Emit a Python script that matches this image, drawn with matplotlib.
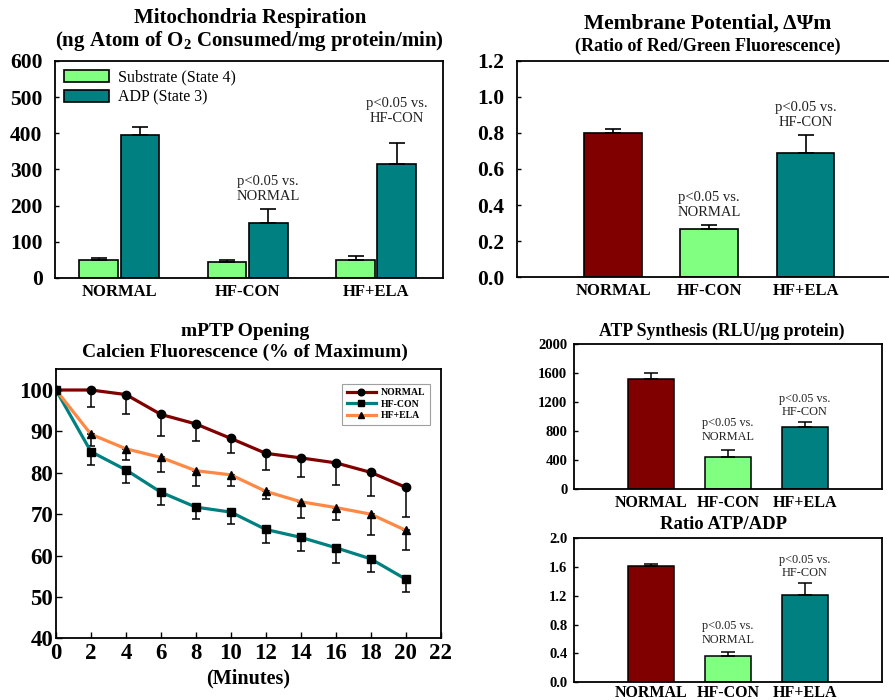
import matplotlib
matplotlib.use("Agg")
import matplotlib.pyplot as plt
import numpy as np

plt.rcParams['font.family'] = ['Liberation Serif', 'DejaVu Serif']
plt.rcParams['mathtext.fontset'] = 'custom'
plt.rcParams['mathtext.rm'] = 'Liberation Serif'
plt.rcParams['mathtext.bf'] = 'Liberation Serif:bold'

# Data
groups = ["NORMAL", "HF-CON", "HF+ELA"]
state4 = [49, 45, 49]
state4_err = [5, 5, 12]
state3 = [396, 151, 316]
state3_err = [22, 39, 57]

dpsi = [0.80, 0.27, 0.69]
dpsi_err = [0.02, 0.02, 0.10]

atp = [1517, 446, 855]
atp_err = [78, 87, 69]

ratio = [1.615, 0.37, 1.21]
ratio_err = [0.03, 0.05, 0.17]

minutes = [0, 2, 4, 6, 8, 10, 12, 14, 16, 18, 20]
mptp_normal = [100, 100, 98.9, 94.1, 91.8, 88.3, 84.7, 83.6, 82.4, 80.1, 76.5]
mptp_normal_err = [0, 4.1, 4.8, 5.3, 4.1, 3.6, 4.1, 4.6, 5.3, 5.6, 7.1]
mptp_hfcon = [100, 85.1, 80.7, 75.3, 71.7, 70.5, 66.3, 64.4, 61.9, 59.2, 54.3]
mptp_hfcon_err = [0, 3.2, 3.2, 3.0, 2.8, 2.8, 3.3, 3.3, 3.6, 3.2, 3.2]
mptp_hfela = [100, 89.3, 85.8, 83.7, 80.5, 79.5, 75.5, 73.0, 71.6, 70.0, 66.1]
mptp_hfela_err = [0, 2.8, 2.7, 3.4, 3.8, 2.8, 1.9, 4.0, 3.0, 5.0, 4.8]

RED = "#800000"
GREEN = "#80FF80"
TEAL = "#008080"
ORANGE = "#FF8844"
bar_colors = [RED, GREEN, TEAL]
pnote_normal = "p<0.05 vs.\nNORMAL"
pnote_hfcon = "p<0.05 vs.\nHF-CON"

fig = plt.figure(figsize=(8.89, 7.0), dpi=100)


def style_axes(ax, ysize, xsize, ypad=3.5, xpad=4):
    for s in ax.spines.values():
        s.set_linewidth(1.3)
    ax.tick_params(axis='y', direction='in', length=3, width=1, labelsize=ysize, pad=ypad)
    ax.tick_params(axis='x', length=0, labelsize=xsize, pad=xpad)
    for lab in ax.get_xticklabels() + ax.get_yticklabels():
        lab.set_fontweight('bold')


# ---- Mitochondria respiration
ax1 = fig.add_axes([0.0619, 0.6029, 0.4364, 0.31])
x = np.arange(len(groups))
w = 0.30
ax1.bar(x - 0.16, state4, w, color=GREEN, edgecolor='black', linewidth=1.2,
        yerr=[[0] * 3, state4_err], capsize=6, error_kw=dict(elinewidth=1.2, capthick=1.2),
        label="Substrate (State 4)")
ax1.bar(x + 0.16, state3, w, color=TEAL, edgecolor='black', linewidth=1.2,
        yerr=[[0] * 3, state3_err], capsize=6, error_kw=dict(elinewidth=1.2, capthick=1.2),
        label="ADP (State 3)")
ax1.set_xlim(-0.5, 2.52)
ax1.set_ylim(0, 600)
ax1.set_yticks(range(0, 601, 100))
ax1.set_xticks(x)
ax1.set_xticklabels(groups)
style_axes(ax1, 15.5, 12, ypad=9)
ax1.legend(loc='upper left', frameon=False, fontsize=11.5, handlelength=2.8,
           handleheight=0.8, borderaxespad=0.15, labelspacing=0.25, handletextpad=0.6)
ax1.text(1.16, 208, pnote_normal, ha='center', va='bottom', fontsize=10.5, color='#222222')
ax1.text(2.16, 422, pnote_hfcon, ha='center', va='bottom', fontsize=10.5, color='#222222')
fig.text(0.281, 0.975, "Mitochondria Respiration", ha='center', va='center',
         fontsize=15, fontweight='bold')
fig.text(0.281, 0.941, r"(ng Atom of $\mathbf{O_2}$ Consumed/mg protein/min)", ha='center',
         va='center', fontsize=15, fontweight='bold')

# ---- Membrane potential
ax2 = fig.add_axes([0.5812, 0.6039, 0.4333, 0.3094])
ax2.bar(x, dpsi, 0.6, color=bar_colors, edgecolor='black', linewidth=1.2,
        yerr=[[0] * 3, dpsi_err], capsize=6, error_kw=dict(elinewidth=1.2, capthick=1.2))
ax2.set_xlim(-1, 3)
ax2.set_ylim(0, 1.2)
ax2.set_yticks(np.arange(0, 1.21, 0.2))
ax2.set_yticklabels([f"{v:.1f}" for v in np.arange(0, 1.21, 0.2)])
ax2.set_xticks(x)
ax2.set_xticklabels(groups)
style_axes(ax2, 15.5, 12, ypad=9)
ax2.text(1, 0.325, pnote_normal, ha='center', va='bottom', fontsize=10.5, color='#222222')
ax2.text(2, 0.82, pnote_hfcon, ha='center', va='bottom', fontsize=10.5, color='#222222')
fig.text(0.796, 0.967, "Membrane Potential, ΔΨm", ha='center', va='center',
         fontsize=15.5, fontweight='bold')
fig.text(0.796, 0.934, "(Ratio of Red/Green Fluorescence)", ha='center', va='center',
         fontsize=13, fontweight='bold')

# ---- mPTP opening
ax3 = fig.add_axes([0.063, 0.0881, 0.4327, 0.3843])
series = [
    (mptp_normal, mptp_normal_err, RED, 'o', "NORMAL"),
    (mptp_hfcon, mptp_hfcon_err, TEAL, 's', "HF-CON"),
    (mptp_hfela, mptp_hfela_err, ORANGE, '^', "HF+ELA"),
]
for vals, errs, col, mk, lab in series:
    ax3.errorbar(minutes, vals, yerr=[errs, [0] * len(errs)], fmt='none', ecolor='black',
                 elinewidth=1.1, capsize=3, capthick=1.1, zorder=2)
    ax3.plot(minutes, vals, color=col, linewidth=2.3, marker=mk, markersize=6,
             markerfacecolor='black', markeredgecolor='black', label=lab, zorder=3)
ax3.set_xlim(0, 22)
ax3.set_ylim(40, 105)
ax3.set_xticks(range(0, 23, 2))
ax3.set_yticks(range(40, 101, 10))
for s in ax3.spines.values():
    s.set_linewidth(1.3)
ax3.tick_params(direction='in', length=4, width=1, labelsize=16.5)
ax3.tick_params(axis='y', pad=2)
for lab in ax3.get_xticklabels() + ax3.get_yticklabels():
    lab.set_fontweight('bold')
ax3.set_xlabel("(Minutes)", fontsize=14.5, fontweight='bold', labelpad=3)
leg = ax3.legend(loc='upper right', prop={'weight': 'bold', 'size': 7},
                 handlelength=3.0, borderpad=0.5, labelspacing=0.25, fancybox=False,
                 handletextpad=0.5, markerscale=0.8, bbox_to_anchor=(0.985, 0.965))
leg.get_frame().set_edgecolor('#888888')
leg.get_frame().set_linewidth(0.8)
fig.text(0.276, 0.526, "mPTP Opening", ha='center', va='center', fontsize=14,
         fontweight='bold')
fig.text(0.276, 0.496, "Calcien Fluorescence (% of Maximum)", ha='center', va='center',
         fontsize=14, fontweight='bold')

# ---- ATP synthesis
ax4 = fig.add_axes([0.646, 0.3014, 0.3458, 0.2072])
ax4.bar(x, atp, 0.6, color=bar_colors, edgecolor='black', linewidth=1.1,
        yerr=[[0] * 3, atp_err], capsize=5, error_kw=dict(elinewidth=1.1, capthick=1.1))
ax4.set_xlim(-1, 3)
ax4.set_ylim(0, 2000)
ax4.set_yticks(range(0, 2001, 400))
ax4.set_xticks(x)
ax4.set_xticklabels(groups)
style_axes(ax4, 10.5, 11.5, ypad=5)
ax4.text(1, 635, pnote_normal, ha='center', va='bottom', fontsize=8.8, color='#222222')
ax4.text(2, 975, pnote_hfcon, ha='center', va='bottom', fontsize=8.8, color='#222222')
fig.text(0.812, 0.526, "ATP Synthesis (RLU/μg protein)", ha='center', va='center',
         fontsize=12.8, fontweight='bold')

# ---- Ratio ATP/ADP
ax5 = fig.add_axes([0.646, 0.0253, 0.3458, 0.2057])
ax5.bar(x, ratio, 0.6, color=bar_colors, edgecolor='black', linewidth=1.1,
        yerr=[[0] * 3, ratio_err], capsize=5, error_kw=dict(elinewidth=1.1, capthick=1.1))
ax5.set_xlim(-1, 3)
ax5.set_ylim(0, 2.0)
ax5.set_yticks(np.arange(0, 2.01, 0.4))
ax5.set_yticklabels([f"{v:.1f}" for v in np.arange(0, 2.01, 0.4)])
ax5.set_xticks(x)
ax5.set_xticklabels(groups)
style_axes(ax5, 10.5, 11.5, ypad=5, xpad=2)
ax5.text(1, 0.51, pnote_normal, ha='center', va='bottom', fontsize=8.8, color='#222222')
ax5.text(2, 1.43, pnote_hfcon, ha='center', va='bottom', fontsize=8.8, color='#222222')
fig.text(0.814, 0.251, "Ratio ATP/ADP", ha='center', va='center', fontsize=13.5,
         fontweight='bold')

fig.savefig("out.png", dpi=100)
